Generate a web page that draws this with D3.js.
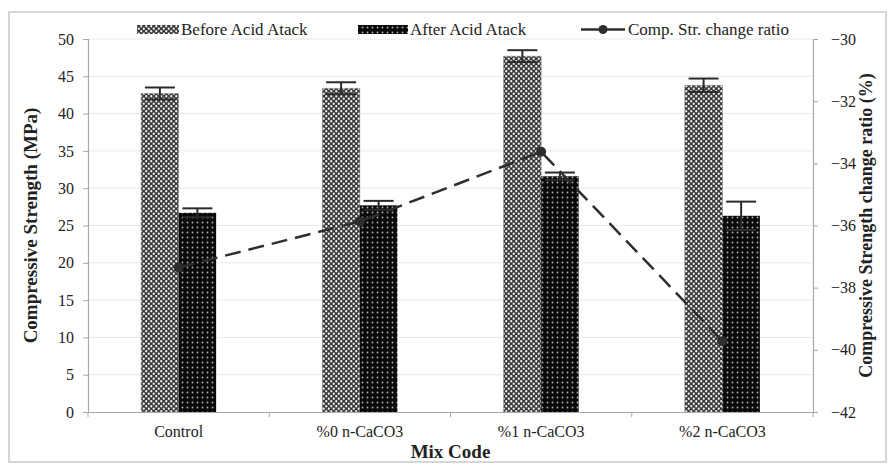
<!DOCTYPE html>
<html><head><meta charset="utf-8">
<script src="https://cdn.jsdelivr.net/npm/d3@7"></script>
<style>body{margin:0;background:#fff}svg{display:block}svg text{font-family:"Liberation Serif","Times New Roman",Times,serif !important;fill:#222}</style>
</head><body><svg id="c" width="895" height="470"></svg>
<script>
const categories = ["Control", "%0 n-CaCO3", "%1 n-CaCO3", "%2 n-CaCO3"];
const beforeValues = [42.7, 43.4, 47.7, 43.8];
const beforeErrors = [0.8, 0.8, 0.8, 0.9];
const afterValues = [26.7, 27.7, 31.6, 26.3];
const afterErrors = [0.6, 0.6, 0.5, 1.9];
const ratioValues = [-37.35, -35.87, -33.63, -39.72];
const leftTicks = [0, 5, 10, 15, 20, 25, 30, 35, 40, 45, 50];
const rightTicks = [-42, -40, -38, -36, -34, -32, -30];
const seriesNames = ["Before Acid Atack", "After Acid Atack", "Comp. Str. change ratio"];

const svg = d3.select("#c");
const defs = svg.append("defs");
const pb = defs.append("pattern").attr("id","pBefore").attr("patternUnits","userSpaceOnUse").attr("width",5).attr("height",5);
pb.append("rect").attr("width",5).attr("height",5).attr("fill","#383838");
pb.append("circle").attr("cx",1.25).attr("cy",1.25).attr("r",1.15).attr("fill","#f0f0f0");
pb.append("circle").attr("cx",3.75).attr("cy",3.75).attr("r",1.15).attr("fill","#f0f0f0");
const pa = defs.append("pattern").attr("id","pAfter").attr("patternUnits","userSpaceOnUse").attr("width",5).attr("height",5);
pa.append("rect").attr("width",5).attr("height",5).attr("fill","#0a0a0a");
pa.append("circle").attr("cx",2.5).attr("cy",2.5).attr("r",0.9).attr("fill","#b0b0b0");

// outer frame
svg.append("rect").attr("x",9).attr("y",12).attr("width",877).attr("height",450)
  .attr("fill","none").attr("stroke","#c8c8c8").attr("stroke-width",1.5);

const L = 88, R = 813, T = 39, B = 412;
const x0 = d3.scaleBand().domain(categories).range([L, R]).paddingInner(0.586).paddingOuter(0.293);
const x1 = d3.scaleBand().domain(["before","after"]).range([0, x0.bandwidth()]);
const xc = d3.scalePoint().domain(categories).range([L, R]).padding(0.5);
const yL = d3.scaleLinear().domain([0, 50]).range([B, T]);
const yR = d3.scaleLinear().domain([-42, -30]).range([B, T]);

// grid
svg.append("g").selectAll("line").data(leftTicks.slice(1)).join("line")
  .attr("x1",L).attr("x2",R).attr("y1",d=>yL(d)).attr("y2",d=>yL(d))
  .attr("stroke","#e8e8e8").attr("stroke-width",1);

// bars
const g = svg.append("g");
categories.forEach((c,i)=>{
  const bx = x0(c);
  g.append("rect").attr("x",bx+x1("before")).attr("y",yL(beforeValues[i])).attr("width",x1.bandwidth()).attr("height",yL(0)-yL(beforeValues[i]))
    .attr("fill","url(#pBefore)").attr("stroke","#8a8a8a").attr("stroke-width",0.6);
  g.append("rect").attr("x",bx+x1("after")).attr("y",yL(afterValues[i])).attr("width",x1.bandwidth()).attr("height",yL(0)-yL(afterValues[i]))
    .attr("fill","url(#pAfter)");
});
// error bars
function eb(cx, v, e){
  const cw = 15;
  g.append("line").attr("x1",cx).attr("x2",cx).attr("y1",yL(v+e)).attr("y2",yL(v-e)).attr("stroke","#2a2a2a").attr("stroke-width",2);
  [v+e, v-e].forEach(t=>g.append("line").attr("x1",cx-cw).attr("x2",cx+cw).attr("y1",yL(t)).attr("y2",yL(t)).attr("stroke","#2a2a2a").attr("stroke-width",2));
}
categories.forEach((c,i)=>{
  eb(x0(c)+x1("before")+x1.bandwidth()/2, beforeValues[i], beforeErrors[i]);
  eb(x0(c)+x1("after")+x1.bandwidth()/2, afterValues[i], afterErrors[i]);
});

// axes
const axL = svg.append("g").attr("transform",`translate(${L},0)`).call(d3.axisLeft(yL).tickValues(leftTicks).tickSize(5).tickPadding(9));
const axR = svg.append("g").attr("transform",`translate(${R},0)`).call(d3.axisRight(yR).tickValues(rightTicks).tickSize(5).tickPadding(13));
const axB = svg.append("g").attr("transform",`translate(0,${B})`).call(d3.axisBottom(x0).tickSize(0).tickPadding(14));
[axL,axR,axB].forEach(a=>{
  a.attr("font-family",null);
  a.select(".domain").attr("stroke","#a8a8a8").attr("stroke-width",1.2);
  a.selectAll(".tick line").attr("stroke","#a8a8a8");
  a.selectAll("text").attr("font-size",16).attr("fill","#222");
});
// category separator ticks
svg.append("g").selectAll("line").data(d3.range(5)).join("line")
  .attr("x1",i=>L+i*(R-L)/4).attr("x2",i=>L+i*(R-L)/4).attr("y1",B).attr("y2",B+5)
  .attr("stroke","#a8a8a8");

// line series
const line = d3.line().x((d,i)=>xc(categories[i])).y(d=>yR(d));
svg.append("path").datum(ratioValues).attr("d",line).attr("fill","none")
  .attr("stroke","#2e2e2e").attr("stroke-width",2.5).attr("stroke-dasharray","16,8");
svg.append("g").selectAll("circle").data(ratioValues).join("circle")
  .attr("cx",(d,i)=>xc(categories[i])).attr("cy",d=>yR(d)).attr("r",5).attr("fill","#2e2e2e");

// titles
svg.append("text").attr("x",(L+R)/2).attr("y",458).attr("text-anchor","middle")
  .attr("font-weight","bold").attr("font-size",19).text("Mix Code");
svg.append("text").attr("transform",`translate(37,${(T+B)/2}) rotate(-90)`).attr("text-anchor","middle")
  .attr("font-weight","bold").attr("font-size",19).text("Compressive Strength (MPa)");
svg.append("text").attr("transform",`translate(872,${(T+B)/2}) rotate(-90)`).attr("text-anchor","middle")
  .attr("font-weight","bold").attr("font-size",18).text("Compressive Strength change ratio (%)");

// legend
const lg = svg.append("g");
lg.append("rect").attr("x",137).attr("y",25).attr("width",42).attr("height",9).attr("fill","url(#pBefore)");
lg.append("text").attr("x",181).attr("y",35).attr("font-size",17).text(seriesNames[0]);
lg.append("rect").attr("x",358).attr("y",25).attr("width",50).attr("height",9).attr("fill","url(#pAfter)");
lg.append("text").attr("x",410).attr("y",35).attr("font-size",17).text(seriesNames[1]);
lg.append("line").attr("x1",581).attr("x2",625).attr("y1",29.5).attr("y2",29.5).attr("stroke","#2e2e2e").attr("stroke-width",2.5);
lg.append("circle").attr("cx",603).attr("cy",29.5).attr("r",4.5).attr("fill","#2e2e2e");
lg.append("text").attr("x",628).attr("y",35).attr("font-size",17).text(seriesNames[2]);
</script></body></html>
